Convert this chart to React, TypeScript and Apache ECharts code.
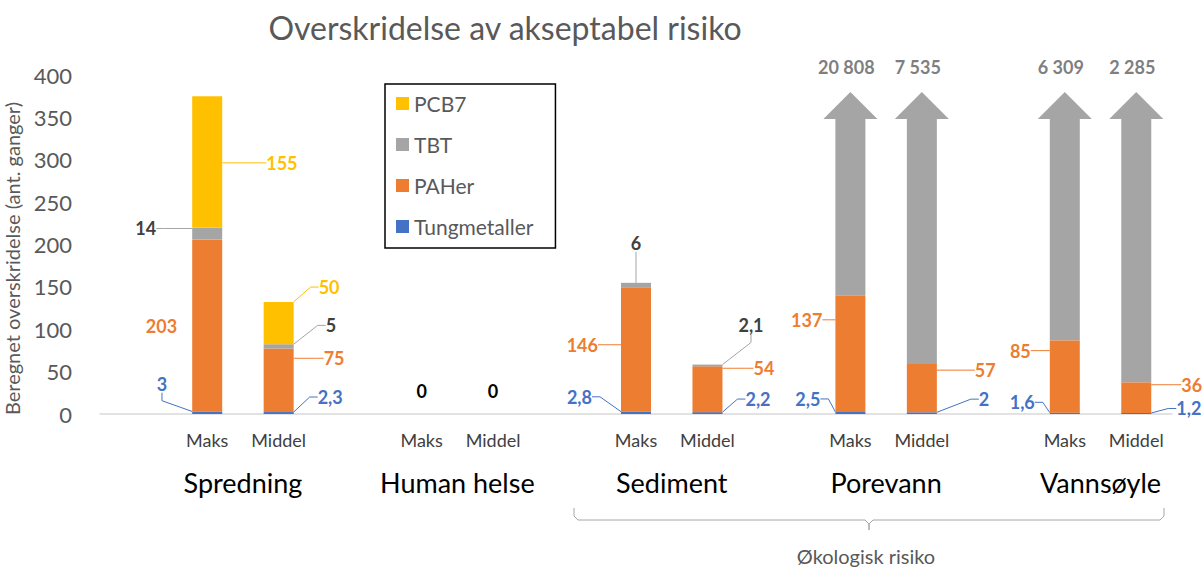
import React, { useEffect, useRef } from 'react';
import * as echarts from 'echarts';

// ---- data ----
const GROUPS = ['Spredning', 'Human helse', 'Sediment', 'Porevann', 'Vannsøyle'];
const SUBCATS = ['Maks', 'Middel'];
// values per group: Maks, Middel
const TUNGMETALLER = [3, 2.3, 0, 0, 2.8, 2.2, 2.5, 2, 1.6, 1.2];
const PAHER = [203, 75, null, null, 146, 54, 137, 57, 85, 36];
const TBT = [14, 5, null, null, 6, 2.1, 20808, 7535, 6309, 2285];
const PCB7 = [155, 50, null, null, null, null, null, null, null, null];

const Y_MIN = 0;
const Y_MAX = 400;
const Y_INTERVAL = 50;

// ---- style / layout ----
const FONT = 'Lato, "Open Sans", sans-serif';
const C_BLUE = '#4472c4';
const C_ORANGE = '#ed7d31';
const C_GRAY = '#a5a5a5';
const C_YELLOW = '#ffc000';
const BAR_W = 30;
const HEAD_W = 54;
const ARROW_NECK = 348; // axis value where the arrow head starts
const ARROW_TIP = 380; // axis value of the arrow tip
const LABEL_SIZE = 18;

// label placement: [side, gap(px), dy(px), showLine]
type LL = [string, number, number, boolean] | null;
const LAYOUT: Record<string, LL[]> = {
  Tungmetaller: [
    ['L', 22, -29, true], ['R', 21, -16, true],
    ['T', 0, -23, false], ['T', 0, -23, false],
    ['L', 26, -16, true], ['R', 20, -14, true],
    ['L', 12, -14, true], ['R', 39, -14, true],
    ['L', 12, -11, true], ['R', 22, -5, true],
  ],
  PAHer: [
    ['L', 12, 1, false], ['R', 27, -22, true],
    null, null,
    ['L', 20, -5, true], ['R', 28, -21, true],
    ['L', 10, -34, true], ['R', 35, -18, true],
    ['L', 16, -26, true], ['R', 27, -13, true],
  ],
  TBT: [
    ['L', 33, -5, true], ['R', 29, -21, true],
    null, null,
    ['T', 0, -40, true], ['R', 13, -40, true],
    null, null, null, null,
  ],
  PCB7: [
    ['R', 41, 1, true], ['R', 22, -36, true],
    null, null, null, null, null, null, null, null,
  ],
};

const slotOf = (i: number) => 3 * Math.floor(i / 2) + 1 + (i % 2);
const idxOfSlot = (s: number) => {
  const g = Math.floor(s / 3);
  const r = s % 3;
  return r === 0 ? -1 : 2 * g + (r - 1);
};
const N_SLOTS = GROUPS.length * 3;

const CATEGORIES: string[] = [];
for (let s = 0; s < N_SLOTS; s++) {
  const i = idxOfSlot(s);
  CATEGORIES.push(i < 0 ? `gap${s}` : `${GROUPS[Math.floor(i / 2)]}|${SUBCATS[i % 2]}`);
}

const fmt = (v: number) => {
  if (v >= 1000) {
    const s = String(Math.round(v));
    return s.replace(/\B(?=(\d{3})+(?!\d))/g, ' ');
  }
  return String(v).replace('.', ',');
};

function toSlots(arr: (number | null)[], name: string, filter?: (v: number) => boolean) {
  const out: any[] = [];
  for (let s = 0; s < N_SLOTS; s++) {
    const i = idxOfSlot(s);
    if (i < 0 || arr[i] == null || (filter && !filter(arr[i] as number))) {
      out.push(null);
      continue;
    }
    const e = LAYOUT[name][i];
    const item: any = { value: arr[i], labelLine: { show: !!(e && e[3]) } };
    if (arr[i] === 0) item.label = { color: '#000000' };
    out.push(item);
  }
  return out;
}

const makeLabelLayout = (name: string) => (params: any) => {
  const i = idxOfSlot(params.dataIndex);
  const e = i >= 0 ? LAYOUT[name][i] : null;
  if (!e) return {};
  const r = params.rect;
  const [side, gap, dy] = e;
  if (side === 'L') {
    return { x: r.x - gap, y: r.y + r.height / 2 + dy, align: 'right', verticalAlign: 'middle' };
  }
  if (side === 'R') {
    return { x: r.x + r.width + gap, y: r.y + r.height / 2 + dy, align: 'left', verticalAlign: 'middle' };
  }
  return { x: r.x + r.width / 2, y: r.y + dy, align: 'center', verticalAlign: 'middle' };
};

const barSeries = (name: string, arr: (number | null)[], color: string, labelColor: string, filter?: (v: number) => boolean) => ({
  name,
  type: 'bar',
  stack: 'total',
  barWidth: BAR_W,
  data: toSlots(arr, name, filter),
  itemStyle: { color },
  label: {
    show: true,
    color: labelColor,
    fontSize: LABEL_SIZE,
    fontWeight: 'bold',
    fontFamily: FONT,
    padding: [0, 3],
    formatter: (p: any) => fmt(p.value),
  },
  labelLine: { show: true, length2: 8, lineStyle: { width: 1 } },
  labelLayout: makeLabelLayout(name),
});

// arrow data: [slot, base, value]
const ARROWS: number[][] = [];
TBT.forEach((v, i) => {
  if (v != null && v > Y_MAX) {
    ARROWS.push([slotOf(i), (TUNGMETALLER[i] || 0) + (PAHER[i] || 0), v]);
  }
});

export default function App() {
  const ref = useRef<HTMLDivElement>(null);
  useEffect(() => {
    if (!ref.current) return;
    const chart = echarts.init(ref.current, null, { renderer: 'svg' });
    chart.setOption({
      animation: false,
      backgroundColor: '#ffffff',
      textStyle: { fontFamily: FONT },
      grid: { left: 100, right: 31, top: 75, bottom: 155, outerBoundsMode: 'none', containLabel: false },
      legend: {
        data: ['PCB7', 'TBT', 'PAHer', 'Tungmetaller'],
        orient: 'vertical',
        left: 385,
        top: 84,
        icon: 'rect',
        itemWidth: 13,
        itemHeight: 13,
        itemGap: 20,
        padding: [9, 22, 11, 11],
        borderColor: '#000000',
        borderWidth: 1.5,
        textStyle: { fontSize: 21, color: '#595959', fontFamily: FONT },
      },
      xAxis: [
        {
          type: 'category',
          data: CATEGORIES,
          axisLine: { lineStyle: { color: '#d9d9d9', width: 1.5 } },
          axisTick: { show: false },
          axisLabel: {
            interval: 0,
            margin: 17,
            fontSize: 18,
            color: '#404040',
            fontFamily: FONT,
            formatter: (v: string) => (v.startsWith('gap') ? '' : v.split('|')[1]),
          },
        },
        {
          type: 'value',
          position: 'bottom',
          min: 0,
          max: N_SLOTS,
          axisLine: { show: false },
          axisTick: { show: false },
          splitLine: { show: false },
          axisLabel: {
            customValues: GROUPS.map((_, k) => 3 * k + 2),
            margin: 55,
            fontSize: 27,
            color: '#000000',
            fontFamily: FONT,
            formatter: (v: number) => GROUPS[Math.round((v - 2) / 3)] || '',
          },
        },
      ],
      yAxis: {
        type: 'value',
        min: Y_MIN,
        max: Y_MAX,
        interval: Y_INTERVAL,
        axisLine: { show: false },
        axisTick: { show: false },
        splitLine: { show: false },
        axisLabel: { fontSize: 22, color: '#595959', margin: 28, fontFamily: FONT },
        name: 'Beregnet overskridelse (ant. ganger)',
        nameLocation: 'middle',
        nameGap: 78,
        nameTextStyle: { fontSize: 20, color: '#595959', fontFamily: FONT, padding: [0, 28, 0, 0] },
      },
      series: [
        barSeries('Tungmetaller', TUNGMETALLER, C_BLUE, C_BLUE),
        barSeries('PAHer', PAHER, C_ORANGE, C_ORANGE),
        barSeries('TBT', TBT, C_GRAY, '#404040', (v) => v <= Y_MAX),
        {
          name: 'TBT',
          type: 'custom',
          coordinateSystem: 'cartesian2d',
          xAxisIndex: 0,
          yAxisIndex: 0,
          encode: { x: 0, y: 1 },
          data: ARROWS,
          itemStyle: { color: C_GRAY },
          renderItem: (params: any, api: any) => {
            const slot = api.value(0);
            const base = api.value(1);
            const v = api.value(2);
            const pb = api.coord([slot, base]);
            const pn = api.coord([slot, ARROW_NECK]);
            const pt = api.coord([slot, ARROW_TIP]);
            const cx = pb[0];
            const hw = BAR_W / 2;
            const hh = HEAD_W / 2;
            return {
              type: 'group',
              children: [
                {
                  type: 'polygon',
                  shape: {
                    points: [
                      [cx - hw, pb[1]], [cx - hw, pn[1]], [cx - hh, pn[1]], [cx, pt[1]],
                      [cx + hh, pn[1]], [cx + hw, pn[1]], [cx + hw, pb[1]],
                    ],
                  },
                  style: { fill: C_GRAY },
                },
                {
                  type: 'text',
                  x: cx - 4,
                  y: pt[1] - 25,
                  style: {
                    text: fmt(v),
                    align: 'center',
                    verticalAlign: 'middle',
                    fill: '#7f7f7f',
                    fontSize: LABEL_SIZE,
                    fontWeight: 'bold',
                    fontFamily: FONT,
                  },
                },
              ],
            };
          },
        },
        barSeries('PCB7', PCB7, C_YELLOW, C_YELLOW),
      ],
      graphic: [
        {
          type: 'text',
          x: 505,
          y: 27,
          style: {
            text: 'Overskridelse av akseptabel risiko',
            align: 'center',
            verticalAlign: 'middle',
            fill: '#595959',
            fontSize: 32,
            fontFamily: FONT,
          },
        },
        {
          type: 'polyline',
          shape: {
            points: [
              [574, 508], [574, 516], [578, 520], [865, 520], [869, 524], [869, 530],
              [869, 524], [873, 520], [1160, 520], [1164, 516], [1164, 508],
            ],
          },
          style: { stroke: '#a6a6a6', lineWidth: 1, fill: 'none' },
        },
        {
          type: 'text',
          x: 866,
          y: 556,
          style: {
            text: 'Økologisk risiko',
            align: 'center',
            verticalAlign: 'middle',
            fill: '#595959',
            fontSize: 20,
            fontFamily: FONT,
          },
        },
      ],
    });
    return () => chart.dispose();
  }, []);
  return (
    <div
      ref={ref}
      style={{ position: 'fixed', left: 0, top: 0, width: 1203, height: 569, background: '#fff' }}
    />
  );
}
